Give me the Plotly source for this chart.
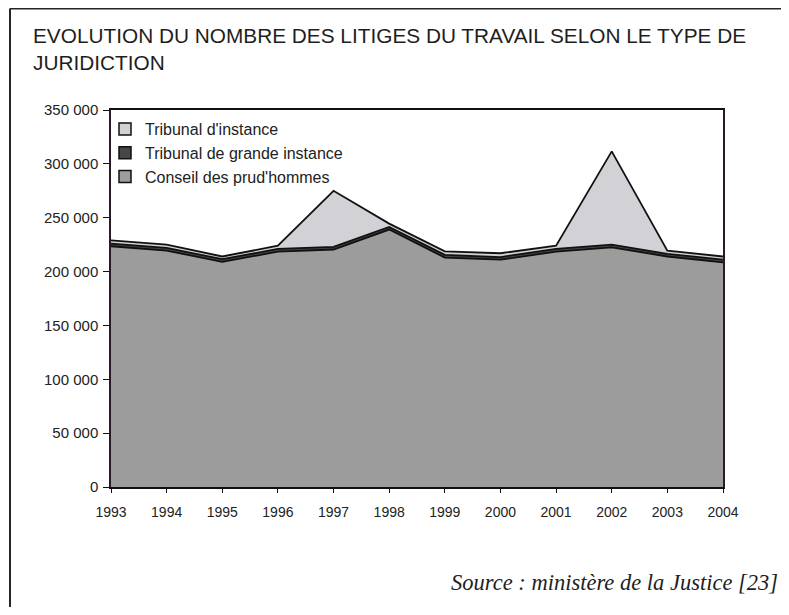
import plotly.graph_objects as go

years = [1993, 1994, 1995, 1996, 1997, 1998, 1999, 2000, 2001, 2002, 2003, 2004]
conseil = [223500, 219500, 209000, 218500, 220500, 239000, 213000, 211000, 218500, 222500, 214000, 208500]
tgi = [2500, 2500, 2500, 2500, 2500, 2500, 2500, 2500, 2500, 2500, 2500, 2500]
ti = [3000, 3000, 2500, 3000, 52000, 3000, 3200, 3500, 3000, 86600, 3000, 3000]

series_names = ["Conseil des prud'hommes", "Tribunal de grande instance", "Tribunal d'instance"]
series_values = [conseil, tgi, ti]
series_fill = ["#9c9c9c", "#474747", "#d2d2d6"]

ytick_vals = [0, 50000, 100000, 150000, 200000, 250000, 300000, 350000]
ytick_text = ["0", "50 000", "100 000", "150 000", "200 000", "250 000", "300 000", "350 000"]

title_text = "EVOLUTION DU NOMBRE DES LITIGES DU TRAVAIL SELON LE TYPE DE<br>JURIDICTION"
source_text = "Source : ministère de la Justice [23]"

# page body has an 8px margin on every side: work in page pixels, keep the figure inside the viewport
OFF = 8
W, H = 789 - 2 * OFF, 615 - 2 * OFF
L, R, T, B = 111 - OFF, 723 - OFF, 110 - OFF, 487 - OFF

def px(x):
    return (x - OFF - L) / (R - L)

def py(y):
    return (B - (y - OFF)) / (B - T)

fig = go.Figure()
for name, vals, col in zip(series_names, series_values, series_fill):
    fig.add_trace(go.Scatter(
        x=years, y=vals, name=name, mode="lines", stackgroup="one",
        line=dict(color="#111111", width=1.8), fillcolor=col, showlegend=False,
    ))
# legend entries with square swatches
for name, col in zip(series_names, series_fill):
    fig.add_trace(go.Bar(
        x=[None], y=[None], name=name,
        marker=dict(color=col, line=dict(color="#111111", width=1.5)),
    ))

frame = dict(color="#2a222a", width=2)

fig.update_layout(
    width=W, height=H,
    margin=dict(l=L, r=W - R, t=T, b=H - B),
    paper_bgcolor="white", plot_bgcolor="white",
    font=dict(family="Liberation Sans, Arial, sans-serif", color="#222222"),
    showlegend=True,
    legend=dict(
        x=px(105), y=py(112), xanchor="left", yanchor="top",
        traceorder="reversed", font=dict(size=16, color="#222222"),
        bgcolor="rgba(0,0,0,0)", itemwidth=30, tracegroupgap=0,
    ),
    xaxis=dict(
        range=[1993, 2004], tickvals=years, ticktext=[str(y) for y in years],
        showgrid=False, zeroline=False, showline=True, linecolor="#111111", linewidth=1.5,
        mirror=True, ticks="outside", ticklen=4, tickcolor="#111111",
        ticklabelstandoff=7,
        tickfont=dict(size=14, color="#222222"),
    ),
    yaxis=dict(
        range=[0, 350000], tickvals=ytick_vals, ticktext=ytick_text,
        showgrid=False, zeroline=False, showline=True, linecolor="#2a1a2a", linewidth=1.5,
        mirror=True, ticks="outside", ticklen=6, tickcolor="#111111",
        ticklabelstandoff=2,
        tickfont=dict(size=15, color="#222222"),
    ),
    annotations=[
        dict(text=title_text, xref="paper", yref="paper", x=px(31), y=py(22),
             xanchor="left", yanchor="top", showarrow=False, align="left",
             font=dict(size=20.8, color="#1e1e1e", family="Liberation Sans, Arial, sans-serif")),
        dict(text="<i>" + source_text + "</i>", xref="paper", yref="paper", x=px(780), y=py(582),
             xanchor="right", yanchor="middle", showarrow=False,
             font=dict(size=22.5, color="#1e1e1e", family="Liberation Serif, Times New Roman, serif")),
    ],
    shapes=[
        dict(type="line", xref="paper", yref="paper", x0=px(10), x1=px(10), y0=py(607), y1=py(8.5), line=frame),
        dict(type="line", xref="paper", yref="paper", x0=px(10), x1=px(781), y0=py(8.5), y1=py(8.5), line=frame),
    ],
)

fig.write_html("out.html")
